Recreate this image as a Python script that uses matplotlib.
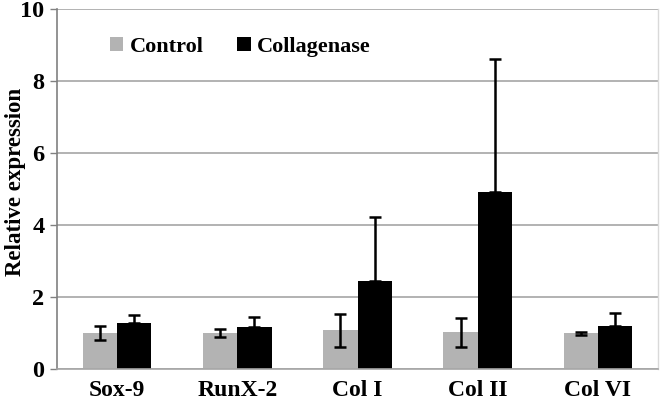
import matplotlib
matplotlib.use("Agg")
import matplotlib.pyplot as plt
import numpy as np

categories = ["Sox-9", "RunX-2", "Col I", "Col II", "Col VI"]
control = [1.0, 1.0, 1.07, 1.02, 0.99]
control_err = [0.19, 0.12, 0.47, 0.40, 0.04]
collagenase = [1.29, 1.18, 2.44, 4.92, 1.20]
collagenase_err = [0.22, 0.26, 1.77, 3.69, 0.36]
series_names = ["Control", "Collagenase"]
yticks = [0, 2, 4, 6, 8, 10]

plt.rcParams['font.family'] = ['Liberation Serif', 'DejaVu Serif']
plt.rcParams['font.weight'] = 'bold'

fig = plt.figure(figsize=(6.6, 4.01), dpi=100)
ax = fig.add_axes([57/660, 1-369/401, 601/660, 360/401])

x = np.arange(len(categories))
w = 0.285
ctrl_color = "#b3b3b3"
ax.bar(x - w/2, control, w, color=ctrl_color, label=series_names[0], zorder=2)
ax.bar(x + w/2, collagenase, w, color="black", label=series_names[1], zorder=2)
ax.errorbar(x - w/2, control, yerr=control_err, fmt='none', ecolor='black',
            elinewidth=1.8, capsize=4.5, capthick=1.8, zorder=3)
ax.errorbar(x + w/2, collagenase, yerr=[np.zeros(len(collagenase)), collagenase_err],
            fmt='none', ecolor='black', elinewidth=1.8, capsize=4.5, capthick=1.8, zorder=3)

ax.set_xlim(-0.5, len(categories) - 0.5)
ax.set_ylim(0, 10)
ax.set_yticks(yticks)
ax.set_yticklabels([str(t) for t in yticks], fontsize=17.5, fontweight='bold')
ax.set_xticks(x)
ax.set_xticklabels(categories, fontsize=17, fontweight='bold')
ax.tick_params(axis='x', length=0, pad=8)
ax.tick_params(axis='y', length=5, width=1, color='#808080', pad=4)
ax.set_ylabel("Relative expression", fontsize=16.5, fontweight='bold')
ax.yaxis.set_label_coords(-0.052, 0.52)

ax.yaxis.grid(True, color='#a6a6a6', linewidth=1.2, zorder=0)
ax.set_axisbelow(True)
ax.spines['right'].set_color('#d9d9d9')
ax.spines['right'].set_linewidth(1)
ax.spines['top'].set_visible(False)
ax.spines['left'].set_color('#808080')
ax.spines['left'].set_linewidth(1.2)
ax.spines['bottom'].set_color('#a6a6a6')
ax.spines['bottom'].set_linewidth(1.2)

leg = ax.legend(loc='upper left', bbox_to_anchor=(0.055, 0.978), ncol=2, frameon=False,
                prop={'family': 'Liberation Serif', 'weight': 'bold', 'size': 16},
                handlelength=0.6, handleheight=0.6, handletextpad=0.3, columnspacing=1.5)

fig.savefig("out.png", dpi=100)
